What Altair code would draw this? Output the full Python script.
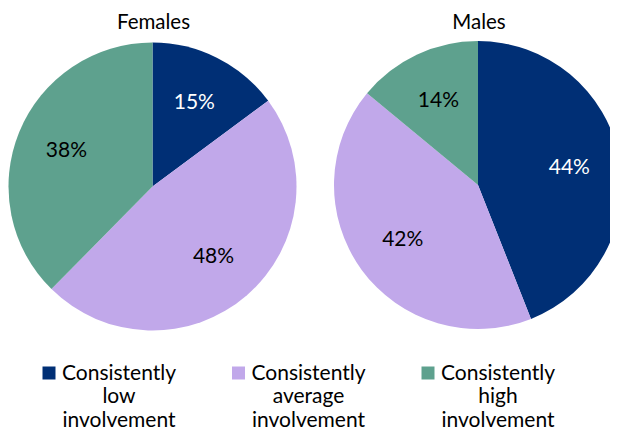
import altair as alt
import pandas as pd

FONT = "Lato"

categories = ["Consistently low involvement",
              "Consistently average involvement",
              "Consistently high involvement"]
legend_labels = ["Consistently\nlow\ninvolvement",
                 "Consistently\naverage\ninvolvement",
                 "Consistently\nhigh\ninvolvement"]
panel_titles = ["Females", "Males"]
females = [15, 48, 38]
males = [44, 42, 14]
colors = ["#002F75", "#C1A8EA", "#5EA18E"]

W, H = 602, 423
R = 144
F_CX, F_CY = 144.5, 178.5
M_CX, M_CY = 470, 177

color_scale = alt.Scale(domain=categories, range=colors)


def pie(values, cx, cy):
    df = pd.DataFrame({
        "category": categories,
        "value": values,
        "order": list(range(len(categories))),
        "label": [f"{v}%" for v in values],
    })
    base = alt.Chart(df).encode(
        theta=alt.Theta("value:Q", stack=True),
        order=alt.Order("order:Q"),
        x=alt.value(cx),
        y=alt.value(cy),
    )
    arcs = base.mark_arc(outerRadius=R).encode(
        color=alt.Color("category:N", scale=color_scale, legend=None)
    )
    text = base.mark_text(radius=93, fontSize=21, font=FONT).encode(
        text="label:N",
        color=alt.condition(alt.datum.category == categories[0],
                            alt.value("white"), alt.value("black")),
    )
    return alt.layer(arcs, text)


def title(t, cx):
    return alt.Chart(pd.DataFrame({"t": [t]})).mark_text(
        fontSize=20.5, font=FONT, color="black", align="center", baseline="alphabetic"
    ).encode(text="t:N", x=alt.value(cx), y=alt.value(20.5))


ldf = pd.DataFrame({"category": categories, "label": legend_labels})
lx = alt.X("category:N", axis=None,
           scale=alt.Scale(domain=categories, type="point", range=[111, 490], padding=0))
squares = alt.Chart(ldf).mark_square(size=169, opacity=1, xOffset=-70).encode(
    x=lx, y=alt.value(365),
    color=alt.Color("category:N", scale=color_scale, legend=None),
)
texts = alt.Chart(ldf).mark_text(lineBreak="\n", lineHeight=23.5, fontSize=21, font=FONT,
                                 align="center", baseline="alphabetic",
                                 color="black").encode(
    x=lx, y=alt.value(371.5), text="label:N",
)

chart = alt.layer(
    pie(females, F_CX, F_CY),
    pie(males, M_CX, M_CY),
    title(panel_titles[0], F_CX + 1),
    title(panel_titles[1], M_CX + 1),
    squares,
    texts,
).resolve_scale(theta="independent").properties(
    width=W, height=H, padding=0, background="white",
    autosize=alt.AutoSizeParams(type="none"),
).configure_view(strokeWidth=0)

chart.save("out.html", embed_options={"renderer": "svg", "actions": False})
